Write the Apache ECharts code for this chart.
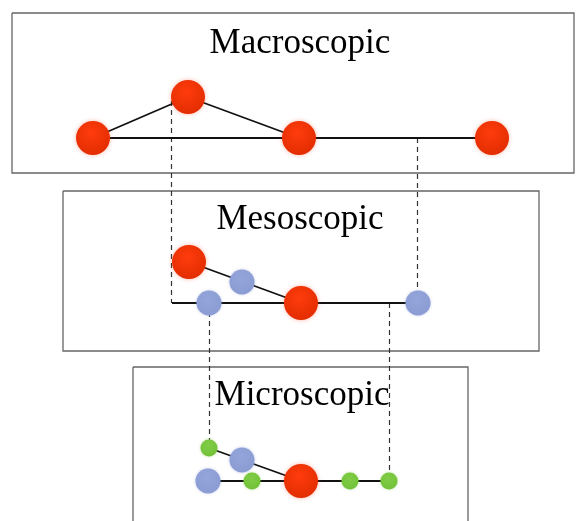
<!DOCTYPE html>
<html><head><meta charset="utf-8">
<script src="https://cdn.jsdelivr.net/npm/echarts@6/dist/echarts.min.js"></script>
<style>html,body{margin:0;padding:0;background:#fff}#c{width:576px;height:521px}</style>
</head><body><div id="c"></div>
<script>
// Level labels
const levelLabels = ['Macroscopic', 'Mesoscopic', 'Microscopic'];
const labelPos = [[300, 44], [300, 220], [302, 396]];
// Panels (corner points)
const boxes = [
  [[12, 13], [574, 13], [574, 173], [12, 173], [12, 13]],
  [[63, 191], [539, 191], [539, 351], [63, 351], [63, 191]],
  [[133, 367], [468, 367], [468, 530], [133, 530], [133, 367]]
];
// Nodes
const redNodes = [[93, 138], [188, 97], [299, 138], [492, 138], [189, 262], [301, 303], [301, 481]];
const blueNodes = [[242, 282], [209, 303], [418, 303], [242, 460], [208, 481]];
const greenNodes = [[209, 448], [252, 481], [350, 481], [389, 481]];
// Solid edges
const edges = [
  [[93, 138], [188, 97]], [[188, 97], [299, 138]], [[93, 138], [492, 138]],
  [[189, 262], [301, 303]], [[172, 303], [418, 303]],
  [[209, 448], [301, 481]], [[208, 481], [389, 481]]
];
// Dashed projection links
const dashed = [
  [[171, 101], [171, 303]], [[417, 138], [417, 303]],
  [[209, 303], [209, 448]], [[389, 303], [389, 481]]
];

const chart = echarts.init(document.getElementById('c'), null, {renderer: 'canvas'});
const rg = (c0, c1) => ({type: 'radial', x: 0.45, y: 0.35, r: 0.7,
  colorStops: [{offset: 0, color: c0}, {offset: 1, color: c1}]});
chart.setOption({
  animation: false,
  grid: {left: 0, right: 0, top: 0, bottom: 0},
  xAxis: {type: 'value', min: 0, max: 576, show: false},
  yAxis: {type: 'value', min: 0, max: 521, inverse: true, show: false},
  series: [
    {type: 'lines', coordinateSystem: 'cartesian2d', polyline: true, z: 1,
     lineStyle: {color: '#666', width: 1.3, opacity: 1},
     data: boxes.map(b => ({coords: b}))},
    {type: 'lines', coordinateSystem: 'cartesian2d', z: 2,
     lineStyle: {color: '#333', width: 1.2, type: [5, 4], opacity: 1},
     data: dashed.map(d => ({coords: d}))},
    {type: 'lines', coordinateSystem: 'cartesian2d', z: 3,
     lineStyle: {color: '#111', width: 1.8, opacity: 1},
     data: edges.map(d => ({coords: d}))},
    {type: 'scatter', z: 5, symbolSize: 34, data: redNodes,
     itemStyle: {opacity: 1, color: rg('#ff3c0c', '#e02c00'), shadowBlur: 4, shadowColor: 'rgba(240,70,30,0.4)'}},
    {type: 'scatter', z: 5, symbolSize: 25, data: blueNodes,
     itemStyle: {opacity: 1, color: rg('#94a5da', '#8a9bd3'), shadowBlur: 3, shadowColor: 'rgba(120,140,210,0.45)'}},
    {type: 'scatter', z: 5, symbolSize: 17, data: greenNodes,
     itemStyle: {opacity: 1, color: rg('#80cc46', '#72c038'), shadowBlur: 3, shadowColor: 'rgba(110,190,50,0.45)'}},
    {type: 'scatter', z: 6, symbolSize: 0, silent: true,
     itemStyle: {opacity: 1},
     data: labelPos.map((p, i) => ({value: p, name: levelLabels[i]})),
     label: {show: true, position: 'inside', formatter: '{b}', color: '#000',
       fontFamily: 'Liberation Serif', fontSize: 35}}
  ]
});
</script></body></html>
